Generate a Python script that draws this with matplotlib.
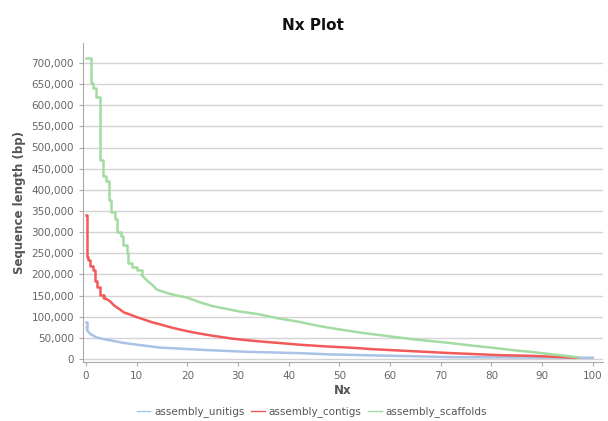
import matplotlib
matplotlib.use("Agg")
import matplotlib.pyplot as plt
from matplotlib.lines import Line2D
from matplotlib.ticker import FuncFormatter, MultipleLocator

# Nx plot values (Nx %, sequence length bp)
unitigs_nx = [0, 0.15, 0.3, 1, 2.1, 3.5, 5.3, 7, 9.3, 12, 14.6, 18, 22.5, 27, 32, 37, 42,
              48, 55, 63, 72, 80, 90, 100]
unitigs_len = [88000, 75000, 66000, 58000, 51000, 47000, 43000, 39000, 35000, 31000, 27000,
               25000, 22000, 19500, 17000, 15500, 14000, 11000, 9000, 7000, 4500, 4000, 3500, 3000]

contigs_nx = [0, 0.2, 0.45, 0.8, 1.45, 1.8, 2.2, 2.8, 3.5, 4.7, 5.5, 6.7, 7.5, 8.7, 10, 11.3,
              13, 14.6, 17, 19.9, 22, 25, 29, 33, 38, 42, 47, 52, 57, 62, 67, 72, 77, 82, 88,
              92, 97]
contigs_len = [340000, 242000, 235000, 220000, 210000, 185000, 170000, 152000, 145000, 137000,
               127000, 117000, 110000, 105000, 99000, 94000, 87000, 82000, 74000, 66000, 61000,
               55000, 48000, 43000, 38000, 34000, 30000, 27000, 23000, 20000, 17000, 14000,
               11500, 9000, 7500, 5500, 3000]

scaffolds_nx = [0, 0.9, 1.3, 2.0, 2.8, 3.3, 3.9, 4.5, 5.0, 5.7, 6.2, 6.8, 7.3, 8.0, 8.3, 9.0,
                10, 11, 12, 13, 14, 16, 18, 20, 22.5, 25, 30, 34, 38, 42, 46, 50, 55, 59, 65,
                71, 76, 80, 85, 88.5, 92, 95, 97]
scaffolds_len = [711000, 652000, 640000, 620000, 471000, 432000, 420000, 377000, 347000,
                 330000, 300000, 290000, 270000, 250000, 228000, 218000, 211000, 198000,
                 186000, 176000, 164000, 156000, 150000, 145000, 134000, 125000, 113000,
                 106000, 96000, 88000, 78000, 70000, 61000, 55000, 46000, 39000, 32000, 27000,
                 20000, 16000, 11000, 7000, 4000]

labels = ["assembly_unitigs", "assembly_contigs", "assembly_scaffolds"]
colors = ["#a9c2e6", "#f25a5a", "#a3dba3"]
# how many leading points are drawn as hard steps (the rest is near continuous)
step_counts = [1, 8, 17]

fig = plt.figure(figsize=(6.08, 4.21), dpi=100)
ax = fig.add_axes([83 / 608, 1 - 362 / 421, (603 - 83) / 608, (362 - 43) / 421])

series = [(unitigs_nx, unitigs_len), (contigs_nx, contigs_len), (scaffolds_nx, scaffolds_len)]
for (xs, ys), col, n in zip(series, colors, step_counts):
    ax.plot(xs[:n + 1], ys[:n + 1], drawstyle="steps-post", color=col, lw=1.8)
    ax.plot(xs[n:], ys[n:], color=col, lw=1.8)

ax.set_xlim(-0.6, 102)
ax.set_ylim(-7000, 747000)
ax.xaxis.set_major_locator(MultipleLocator(10))
ax.yaxis.set_major_locator(MultipleLocator(50000))
ax.yaxis.set_major_formatter(FuncFormatter(lambda v, p: f"{int(v):,}"))

ax.grid(axis="y", color="#d4d4d4", lw=1)
ax.set_axisbelow(True)
for s in ["top", "right"]:
    ax.spines[s].set_visible(False)
for s in ["left", "bottom"]:
    ax.spines[s].set_color("#aaaaaa")
ax.tick_params(colors="#aaaaaa", labelcolor="#666666", labelsize=7.5, length=3)

ax.set_xlabel("Nx", fontsize=8.5, fontweight="bold", color="#555555", labelpad=2)
ax.set_ylabel("Sequence length (bp)", fontsize=8.5, fontweight="bold", color="#555555",
              labelpad=4)
fig.text(313 / 608, 1 - 25 / 421, "Nx Plot", ha="center", va="center", fontsize=11,
         fontweight="bold", color="#111111")

handles = [Line2D([], [], color=c, lw=1) for c in colors]
fig.legend(handles, labels, loc="center", bbox_to_anchor=(312 / 608, 1 - 412 / 421), ncol=3,
           frameon=False, fontsize=7.5, handlelength=1.3, handletextpad=0.4,
           columnspacing=0.6, labelcolor="#555555")

fig.savefig("out.png", dpi=100)
